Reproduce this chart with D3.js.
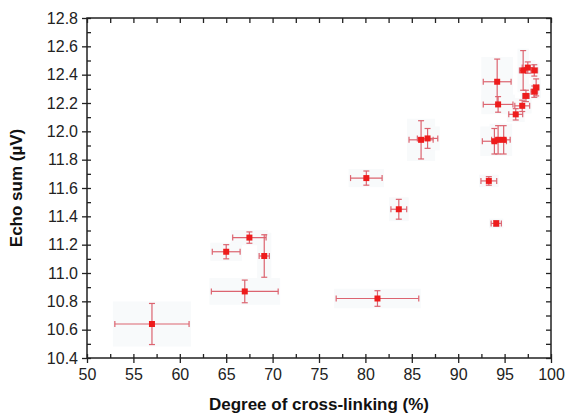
<!DOCTYPE html>
<head>
  <meta charset="utf-8">
  <style>
    body { margin: 0; background: #fff; }
    svg text { font-family: "Liberation Sans", Arial, sans-serif; }
  </style>
</head>
<body>
<script src="https://cdn.jsdelivr.net/npm/d3@7"></script>
<script>

// degree of cross-linking (%) and its error
var xVals = [57.0, 67.0, 67.5, 69.1, 65.0, 81.3, 80.1, 83.6, 86.0, 86.7,
             94.2, 94.3, 97.0, 97.5, 98.2, 98.4, 98.2, 97.3, 96.9, 96.2,
             93.9, 94.3, 94.9, 93.3, 94.1];
var xErr  = [4.0, 3.6, 1.8, 0.55, 1.5, 4.45, 1.7, 0.85, 1.3, 1.1,
             1.5, 1.6, 0.4, 0.6, 0.35, 0.3, 0.35, 0.35, 0.8, 0.75,
             1.3, 0.7, 0.7, 0.85, 0.55];
// echo sum (uV) and its error
var yVals = [10.64, 10.87, 11.25, 11.12, 11.15, 10.82, 11.67, 11.45, 11.94, 11.95,
             12.35, 12.19, 12.43, 12.45, 12.43, 12.31, 12.28, 12.25, 12.18, 12.12,
             11.93, 11.94, 11.94, 11.65, 11.35];
var yErr  = [0.145, 0.08, 0.04, 0.15, 0.05, 0.055, 0.05, 0.07, 0.135, 0.07,
             0.16, 0.055, 0.14, 0.04, 0.04, 0.06, 0.04, 0.04, 0.04, 0.04,
             0.09, 0.1, 0.1, 0.03, 0.02];

var xTicks = [50, 55, 60, 65, 70, 75, 80, 85, 90, 95, 100];
var yTicks = [10.4, 10.6, 10.8, 11.0, 11.2, 11.4, 11.6, 11.8, 12.0, 12.2, 12.4, 12.6, 12.8];

var margin = {top: 18, right: 17, bottom: 59, left: 87};
var width = 568 - margin.left - margin.right;
var height = 417 - margin.top - margin.bottom;

var data = xVals.map(function(d, i) {
  return {x: d, xe: xErr[i], y: yVals[i], ye: yErr[i]};
});

var svg = d3.select("body").append("svg")
    .attr("width", 568)
    .attr("height", 417)
  .append("g")
    .attr("transform", "translate(" + margin.left + "," + margin.top + ")");

var x = d3.scaleLinear().domain([50, 100]).range([0, width]);
var y = d3.scaleLinear().domain([10.4, 12.8]).range([height, 0]);

var xMinor = d3.range(52.5, 100, 5);
var yMinor = d3.range(10.5, 12.8, 0.2);

// very faint halo behind each point (scan artefact in the figure)
svg.selectAll(".halo")
  .data(data)
  .enter().append("rect")
    .attr("x", function(d) { return x(d.x - d.xe) - 2; })
    .attr("y", function(d) { return y(d.y + d.ye) - 2; })
    .attr("width", function(d) { return x(d.x + d.xe) - x(d.x - d.xe) + 4; })
    .attr("height", function(d) { return y(d.y - d.ye) - y(d.y + d.ye) + 4; })
    .attr("fill", "#f8fafb");

// axes
var stroke = "#222";
function styleAxis(g) {
  g.select(".domain").remove();
  g.selectAll("line").attr("stroke", stroke).attr("stroke-width", 1.3);
  g.selectAll("text").attr("fill", "#222").style("font-size", "16px");
}

svg.append("g")
    .attr("transform", "translate(0," + height + ")")
    .call(d3.axisBottom(x).tickValues(xTicks).tickFormat(d3.format("d")).tickSizeInner(5).tickSizeOuter(0).tickPadding(6))
    .call(styleAxis);
svg.append("g")
    .attr("transform", "translate(0," + height + ")")
    .call(d3.axisBottom(x).tickValues(xMinor).tickSize(-4).tickFormat(""))
    .call(styleAxis);
svg.append("g")
    .attr("transform", "translate(0," + height + ")")
    .call(d3.axisBottom(x).tickValues(xTicks).tickSize(-4).tickFormat(""))
    .call(styleAxis);

svg.append("g")
    .call(d3.axisLeft(y).tickValues(yTicks).tickFormat(d3.format(".1f")).tickSizeInner(5).tickSizeOuter(0).tickPadding(4))
    .call(styleAxis);
svg.append("g")
    .call(d3.axisLeft(y).tickValues(yMinor).tickSize(-4).tickFormat(""))
    .call(styleAxis);
svg.append("g")
    .call(d3.axisLeft(y).tickValues(yTicks).tickSize(-4).tickFormat(""))
    .call(styleAxis);

// mirror axes on top and right, ticks pointing in
svg.append("g")
    .call(d3.axisTop(x).tickValues(xTicks.concat(xMinor)).tickSize(-5).tickFormat(""))
    .call(styleAxis);
svg.append("g")
    .attr("transform", "translate(" + width + ",0)")
    .call(d3.axisRight(y).tickValues(yTicks.concat(yMinor)).tickSize(-5).tickFormat(""))
    .call(styleAxis);

svg.append("rect")
    .attr("width", width)
    .attr("height", height)
    .attr("fill", "none")
    .attr("stroke", stroke)
    .attr("stroke-width", 1.5);

// error bars
var errColor = "#dc6470";
var cap = 3;
var eb = svg.selectAll(".err")
  .data(data)
  .enter().append("g")
    .attr("stroke", errColor)
    .attr("stroke-width", 1.2);

eb.append("line")
    .attr("x1", function(d) { return x(d.x - d.xe); })
    .attr("x2", function(d) { return x(d.x + d.xe); })
    .attr("y1", function(d) { return y(d.y); })
    .attr("y2", function(d) { return y(d.y); });
eb.append("line")
    .attr("x1", function(d) { return x(d.x - d.xe); })
    .attr("x2", function(d) { return x(d.x - d.xe); })
    .attr("y1", function(d) { return y(d.y) - cap; })
    .attr("y2", function(d) { return y(d.y) + cap; });
eb.append("line")
    .attr("x1", function(d) { return x(d.x + d.xe); })
    .attr("x2", function(d) { return x(d.x + d.xe); })
    .attr("y1", function(d) { return y(d.y) - cap; })
    .attr("y2", function(d) { return y(d.y) + cap; });
eb.append("line")
    .attr("x1", function(d) { return x(d.x); })
    .attr("x2", function(d) { return x(d.x); })
    .attr("y1", function(d) { return y(d.y - d.ye); })
    .attr("y2", function(d) { return y(d.y + d.ye); });
eb.append("line")
    .attr("x1", function(d) { return x(d.x) - cap; })
    .attr("x2", function(d) { return x(d.x) + cap; })
    .attr("y1", function(d) { return y(d.y + d.ye); })
    .attr("y2", function(d) { return y(d.y + d.ye); });
eb.append("line")
    .attr("x1", function(d) { return x(d.x) - cap; })
    .attr("x2", function(d) { return x(d.x) + cap; })
    .attr("y1", function(d) { return y(d.y - d.ye); })
    .attr("y2", function(d) { return y(d.y - d.ye); });

// markers
svg.selectAll(".pt")
  .data(data)
  .enter().append("rect")
    .attr("x", function(d) { return x(d.x) - 3; })
    .attr("y", function(d) { return y(d.y) - 3; })
    .attr("width", 6)
    .attr("height", 6)
    .attr("fill", "#ee1c1c");

// axis titles
svg.append("text")
    .attr("x", width / 2)
    .attr("y", height + 52)
    .attr("text-anchor", "middle")
    .style("font-size", "17px")
    .style("font-weight", "bold")
    .attr("fill", "#111")
    .text("Degree of cross-linking (%)");

svg.append("text")
    .attr("transform", "translate(" + (-65) + "," + (height / 2) + ") rotate(-90)")
    .attr("text-anchor", "middle")
    .style("font-size", "17px")
    .style("font-weight", "bold")
    .attr("fill", "#111")
    .text("Echo sum (\u00b5V)");

</script>
</body>
